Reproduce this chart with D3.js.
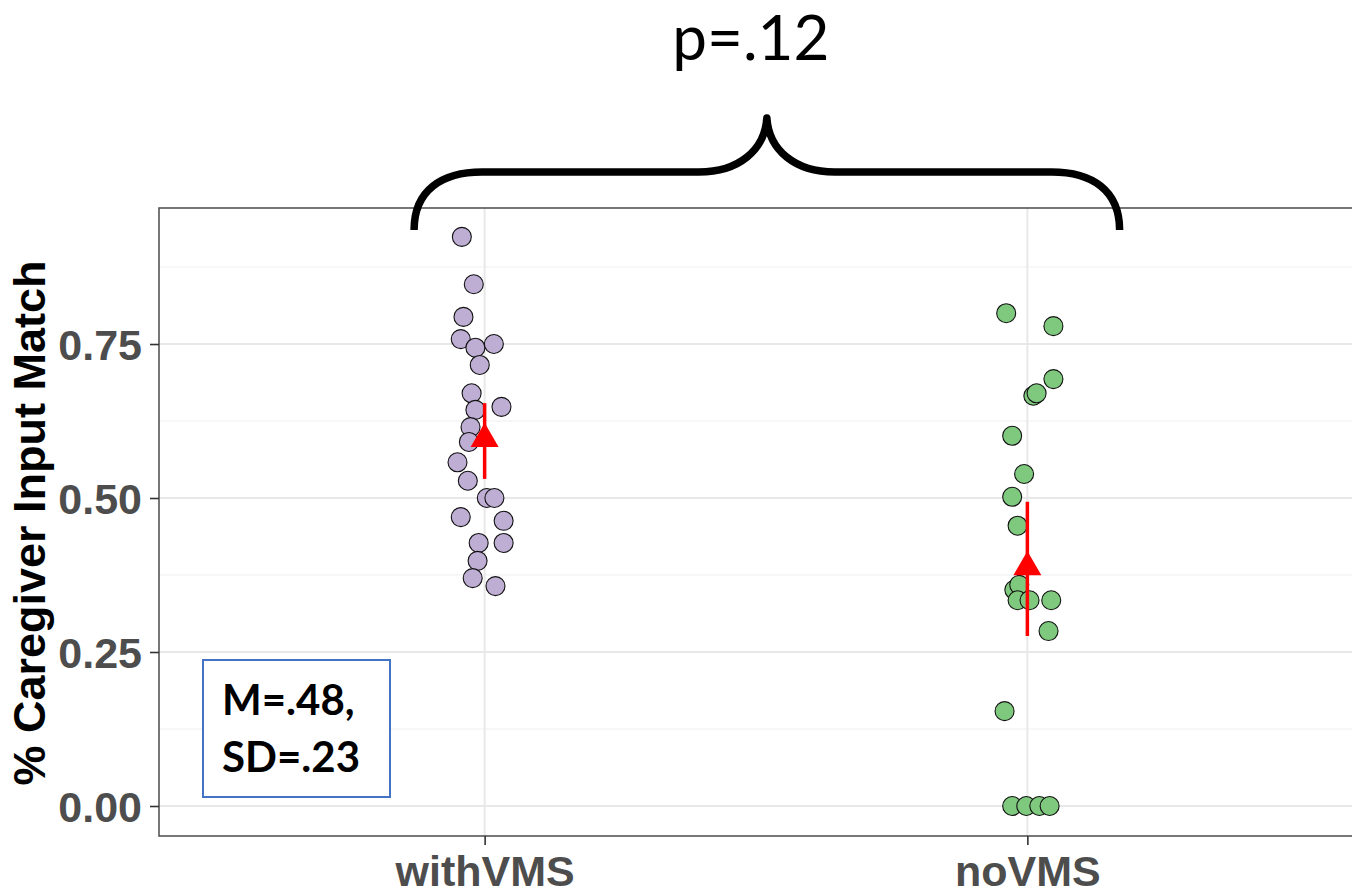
<!DOCTYPE html>
<html>
<head>
<meta charset="utf-8">
<script src="https://cdn.jsdelivr.net/npm/d3@7"></script>
<style>
  html, body { margin: 0; padding: 0; background: #ffffff; }
  svg { display: block; }
</style>
</head>
<body>
<svg id="chart" width="1352" height="894"></svg>
<script>
// ---------------- data ----------------
const categories = ["withVMS", "noVMS"];
const fillColors = ["#beaed4", "#7fc97f"];

const withVMSValues = [0.924, 0.847, 0.794, 0.758, 0.744, 0.750, 0.716, 0.670, 0.643, 0.648,
  0.615, 0.591, 0.558, 0.528, 0.500, 0.500, 0.469, 0.463, 0.427, 0.427, 0.398, 0.370, 0.357];
const withVMSJitter = [-0.042, -0.020, -0.039, -0.044, -0.017, 0.017, -0.009, -0.024, -0.017, 0.031,
  -0.026, -0.029, -0.050, -0.031, 0.004, 0.018, -0.044, 0.035, -0.011, 0.035, -0.013, -0.022, 0.020];

const noVMSValues = [0.800, 0.779, 0.693, 0.666, 0.670, 0.601, 0.539, 0.502, 0.455,
  0.351, 0.359, 0.334, 0.334, 0.334, 0.284, 0.154, 0, 0, 0, 0];
const noVMSJitter = [-0.039, 0.048, 0.048, 0.011, 0.017, -0.028, -0.006, -0.028, -0.018,
  -0.024, -0.015, -0.018, 0.004, 0.044, 0.039, -0.042, -0.028, -0.002, 0.022, 0.041];

const groupMeans = [0.599, 0.391];
const ciLow = [0.531, 0.276];
const ciHigh = [0.654, 0.494];

const yTicks = [0, 0.25, 0.5, 0.75];
const yMinorTicks = [0.125, 0.375, 0.625, 0.875];
const yTickLabels = ["0.00", "0.25", "0.50", "0.75"];
const yTitle = "% Caregiver Input Match";
const pLabel = "p=.12";
const noteLines = ["M=.48,", "SD=.23"];

// ---------------- layout ----------------
const panel = { left: 159, right: 1353, top: 208, bottom: 836 };
const svg = d3.select("#chart");

const x = d3.scalePoint().domain(categories).range([panel.left, panel.right]).padding(0.6);
const step = x.step();
const y = d3.scaleLinear().domain([-0.0487, 0.9708]).range([panel.bottom, panel.top]);

// panel background
svg.append("rect").attr("x", panel.left).attr("y", panel.top)
  .attr("width", panel.right - panel.left).attr("height", panel.bottom - panel.top)
  .attr("fill", "#ffffff");

// grid
const grid = svg.append("g");
grid.selectAll("line.minor").data(yMinorTicks).join("line")
  .attr("x1", panel.left).attr("x2", panel.right)
  .attr("y1", d => y(d)).attr("y2", d => y(d))
  .attr("stroke", "#f0f0f0").attr("stroke-width", 1.2);
grid.selectAll("line.major").data(yTicks).join("line")
  .attr("x1", panel.left).attr("x2", panel.right)
  .attr("y1", d => y(d)).attr("y2", d => y(d))
  .attr("stroke", "#e8e8e8").attr("stroke-width", 2);
grid.selectAll("line.vmajor").data(categories).join("line")
  .attr("x1", d => x(d)).attr("x2", d => x(d))
  .attr("y1", panel.top).attr("y2", panel.bottom)
  .attr("stroke", "#e8e8e8").attr("stroke-width", 2);

// points
const groups = [
  { cat: categories[0], vals: withVMSValues, jit: withVMSJitter, color: fillColors[0] },
  { cat: categories[1], vals: noVMSValues, jit: noVMSJitter, color: fillColors[1] }
];
groups.forEach(g => {
  const pts = g.vals.map((v, i) => ({ v, j: g.jit[i] }));
  svg.append("g").selectAll("circle").data(pts).join("circle")
    .attr("cx", d => x(g.cat) + d.j * step)
    .attr("cy", d => y(d.v))
    .attr("r", 9.5)
    .attr("fill", g.color)
    .attr("stroke", "#111111")
    .attr("stroke-width", 1.1);
});

// mean + CI
const summary = categories.map((c, i) => ({ c, m: groupMeans[i], lo: ciLow[i], hi: ciHigh[i] }));
const sg = svg.append("g");
sg.selectAll("line").data(summary).join("line")
  .attr("x1", d => x(d.c)).attr("x2", d => x(d.c))
  .attr("y1", d => y(d.lo)).attr("y2", d => y(d.hi))
  .attr("stroke", "#ff0000").attr("stroke-width", 3.5);
const tri = d3.symbol().type(d3.symbolTriangle).size(340);
sg.selectAll("path").data(summary).join("path")
  .attr("transform", d => `translate(${x(d.c)},${y(d.m) + 2})`)
  .attr("d", tri)
  .attr("fill", "#ff0000");

// panel border
svg.append("rect").attr("x", panel.left).attr("y", panel.top)
  .attr("width", panel.right - panel.left).attr("height", panel.bottom - panel.top)
  .attr("fill", "none").attr("stroke", "#555555").attr("stroke-width", 1.6);

// y axis
const yAxis = svg.append("g").attr("transform", `translate(${panel.left},0)`)
  .call(d3.axisLeft(y).tickValues(yTicks).tickSize(9).tickPadding(8)
    .tickFormat((d, i) => yTickLabels[i]));
yAxis.select(".domain").remove();
yAxis.selectAll(".tick line").attr("stroke", "#333333").attr("stroke-width", 1.6);
yAxis.selectAll(".tick text")
  .attr("fill", "#4d4d4d")
  .style("font-family", "'Liberation Sans', Arial, sans-serif")
  .style("font-weight", "bold")
  .style("font-size", "43px")
  .attr("dy", "0.36em");

// x axis
const xAxis = svg.append("g").attr("transform", `translate(0,${panel.bottom})`)
  .call(d3.axisBottom(x).tickSize(9).tickPadding(10));
xAxis.select(".domain").remove();
xAxis.selectAll(".tick line").attr("stroke", "#333333").attr("stroke-width", 1.6);
xAxis.selectAll(".tick text")
  .attr("fill", "#4d4d4d")
  .attr("y", 50).attr("dy", 0)
  .style("font-family", "'Liberation Sans', Arial, sans-serif")
  .style("font-weight", "bold")
  .style("font-size", "43px");

// y title
svg.append("text")
  .attr("transform", `translate(45,${(y(0) + y(0.75)) / 2 - 52}) rotate(-90)`)
  .attr("text-anchor", "middle")
  .style("font-family", "'Liberation Sans', Arial, sans-serif")
  .style("font-weight", "bold")
  .style("font-size", "45px")
  .attr("fill", "#000000")
  .text(yTitle);

// brace annotation over both groups
const xl = x(categories[0]) - 0.13 * step;
const xr = x(categories[1]) + 0.17 * step;
const xm = (xl + xr) / 2;
const yb = panel.top + 22, yh = panel.top - 36, yp = panel.top - 90;
const brace = `M${xl},${yb} C${xl},${yh + 18} ${xl + 28},${yh} ${xl + 68},${yh}
  L${xm - 68},${yh} C${xm - 28},${yh} ${xm - 2},${yh - 22} ${xm},${yp}
  C${xm + 2},${yh - 22} ${xm + 28},${yh} ${xm + 68},${yh}
  L${xr - 68},${yh} C${xr - 28},${yh} ${xr},${yh + 18} ${xr},${yb}`;
svg.append("path").attr("d", brace).attr("fill", "none")
  .attr("stroke", "#000000").attr("stroke-width", 7.5).attr("stroke-linejoin", "round");

svg.append("text")
  .attr("x", xm - 16).attr("y", 60)
  .attr("text-anchor", "middle")
  .style("font-family", "Lato, 'Open Sans', sans-serif")
  .style("font-size", "62px")
  .attr("fill", "#000000")
  .text(pLabel);

// note box
svg.append("rect").attr("x", 203).attr("y", 660).attr("width", 187).attr("height", 137)
  .attr("fill", "#ffffff").attr("stroke", "#4472c4").attr("stroke-width", 2);
svg.append("g").selectAll("text").data(noteLines).join("text")
  .attr("x", 222).attr("y", (d, i) => 715 + i * 57)
  .style("font-family", "Lato, 'Open Sans', sans-serif")
  .style("font-weight", "bold")
  .style("font-size", "42px")
  .attr("fill", "#000000")
  .text(d => d);
</script>
</body>
</html>
